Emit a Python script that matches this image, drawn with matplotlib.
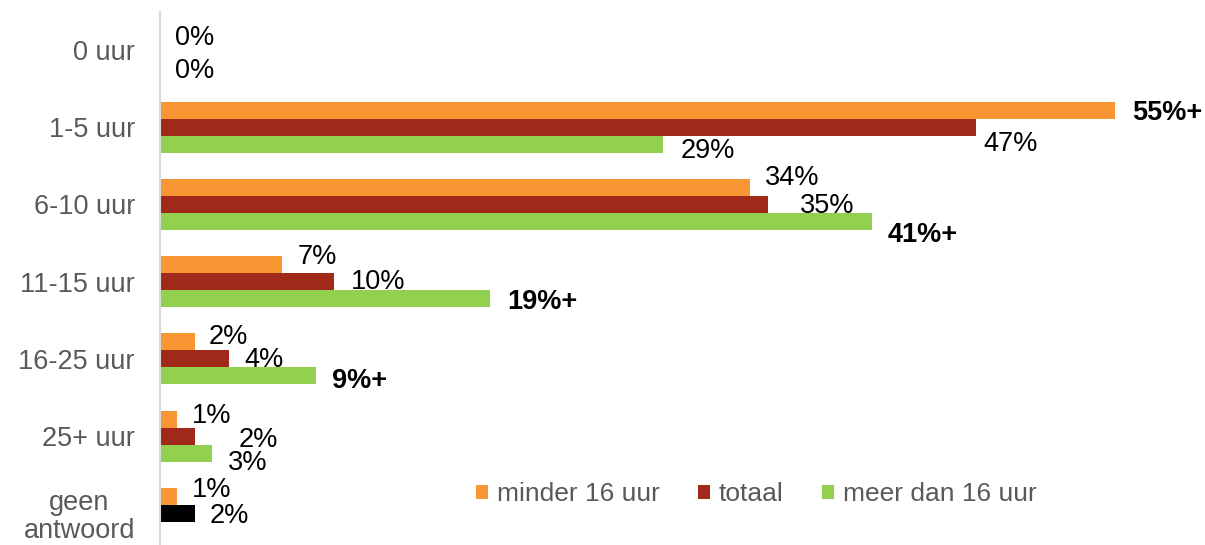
import numpy as np
import matplotlib
matplotlib.use("Agg")
import matplotlib.pyplot as plt
from matplotlib.patches import Patch

plt.rcParams['font.family'] = ['Liberation Sans', 'DejaVu Sans']

categories = ["0 uur", "1-5 uur", "6-10 uur", "11-15 uur", "16-25 uur", "25+ uur", "geen\nantwoord"]
series_names = ["minder 16 uur", "totaal", "meer dan 16 uur"]
minder = [0, 55, 34, 7, 2, 1, 1]
totaal = [np.nan, 47, 35, 10, 4, 2, 2]
meer = [0, 29, 41, 19, 9, 3, np.nan]
# significant ('+') flags
minder_sig = [False, True, False, False, False, False, False]
totaal_sig = [False, False, False, False, False, False, False]
meer_sig = [False, False, True, True, True, False, False]

colors = ["#F79632", "#A0291A", "#92D050"]
totaal_bar_colors = ["#A0291A"] * 6 + ["#000000"]

# label offsets in pixels (dx, dy down) relative to bar end / bar centre
off_minder = [(15, 5), (17, 3), (15, -9), (16, -8), (14, -5), (15, -3), (15, -6)]
off_totaal = [(15, 0), (7, 17), (32, 2), (17, 0), (15, 1), (44, 4), (15, 3)]
off_meer = [(15, 4), (17, 7), (16, 14), (17, 3), (16, 5), (16, 10), (15, 0)]

W, H = 1205, 545
fig = plt.figure(figsize=(W / 100, H / 100), dpi=100)
ax = fig.add_axes([160 / W, 0, 1 - 160 / W, 1])

pxper = 17.36
ax.set_xlim(0, (W - 160) / pxper)
ax.set_ylim(6.41, -0.648)

y = np.arange(len(categories))
bh = 17 / 77.2
offs = [-bh, 0, bh]
vals = [minder, totaal, meer]
sigs = [minder_sig, totaal_sig, meer_sig]
offsets = [off_minder, off_totaal, off_meer]
barcols = [[colors[0]] * 7, totaal_bar_colors, [colors[2]] * 7]

FS = 19.5
for s in range(3):
    v = np.array(vals[s], dtype=float)
    ax.barh(y + offs[s], np.nan_to_num(v), height=bh, color=barcols[s], linewidth=0)
    for i, val in enumerate(v):
        if np.isnan(val):
            continue
        dx, dy = offsets[s][i]
        txt = f"{int(val)}%" + ("+" if sigs[s][i] else "")
        ax.annotate(txt, (val, y[i] + offs[s]), xytext=(dx * 0.72, -dy * 0.72),
                    textcoords="offset points", ha="left", va="center",
                    fontsize=FS, color="black",
                    fontweight="bold" if sigs[s][i] else "normal")

ax.set_yticks(y)
ax.set_yticklabels(categories, fontsize=FS, color="#595959", multialignment="center",
                   linespacing=1.1)
ax.tick_params(axis="y", length=0, pad=18)
ax.set_xticks([])
for sp in ["top", "right", "bottom"]:
    ax.spines[sp].set_visible(False)
ax.spines["left"].set_color("#D9D9D9")
ax.spines["left"].set_linewidth(1.5)
ax.spines["left"].set_bounds(6.41, -0.49)

handles = [Patch(facecolor=c, edgecolor="none") for c in colors]
fig.legend(handles, series_names, loc="center left",
           bbox_to_anchor=(476 / W, 1 - 494 / H), ncol=3, frameon=False,
           fontsize=19, labelcolor="#595959", handlelength=0.45, handleheight=0.45,
           handletextpad=0.34, columnspacing=1.45, borderpad=0, borderaxespad=0)

fig.savefig("out.png", dpi=100)
